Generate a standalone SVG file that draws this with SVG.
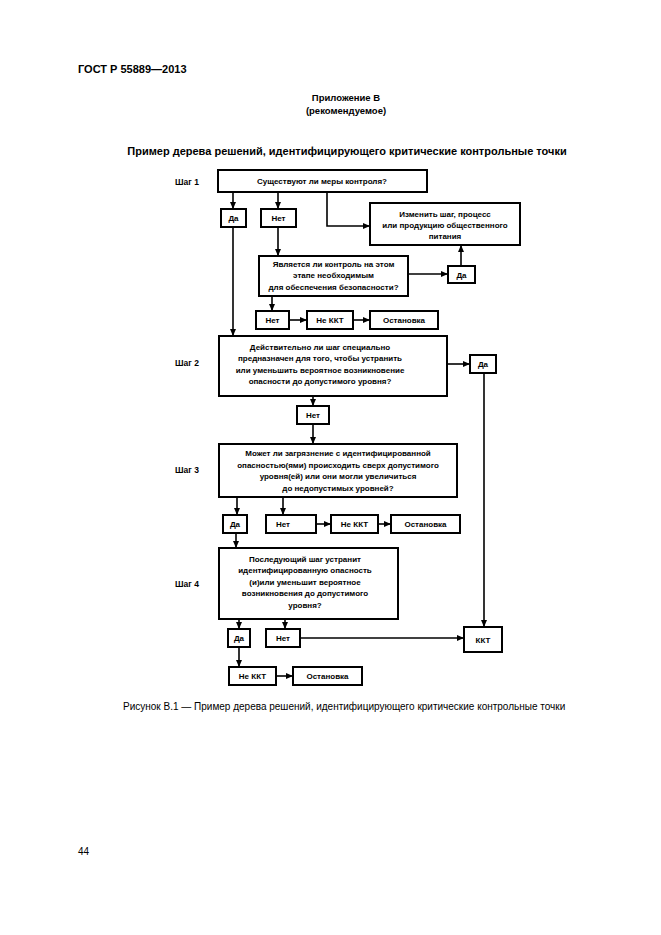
<svg xmlns="http://www.w3.org/2000/svg" width="661" height="935" viewBox="0 0 661 935">
<defs>
<marker id="ah" markerUnits="userSpaceOnUse" markerWidth="7" markerHeight="6" refX="7" refY="3" orient="auto">
<path d="M0,0 L7,3 L0,6 z" fill="#000"/>
</marker>
<style>
.bx{fill:#fff;stroke:#000;stroke-width:2}
.t{font-family:"Liberation Sans",Arial,sans-serif;font-size:8px;font-weight:bold;fill:#000;text-anchor:middle}
.st{font-family:"Liberation Sans",Arial,sans-serif;font-size:8.5px;font-weight:bold;fill:#000}
.c{fill:none;stroke:#000;stroke-width:1.6}
.a{marker-end:url(#ah)}
.h{font-family:"Liberation Sans",Arial,sans-serif;font-weight:bold;fill:#000}
</style>
</defs>
<rect width="661" height="935" fill="#fff"/>
<text class="h" x="78" y="73" font-size="11">ГОСТ Р 55889—2013</text>
<text class="h" x="346" y="101" font-size="9.5" text-anchor="middle">Приложение В</text>
<text class="h" x="346" y="114" font-size="9.5" text-anchor="middle">(рекомендуемое)</text>
<text class="h" x="347" y="155" font-size="11" text-anchor="middle">Пример дерева решений, идентифицирующего критические контрольные точки</text>

<text class="st" x="175" y="185">Шаг 1</text>
<text class="st" x="175" y="366">Шаг 2</text>
<text class="st" x="175" y="473">Шаг 3</text>
<text class="st" x="175" y="587">Шаг 4</text>

<g id="connectors">
<path class="c a" d="M233,192 V209"/>
<path class="c a" d="M278,192 V209"/>
<path class="c a" d="M327,192 V226 H370"/>
<path class="c a" d="M278,227 V256"/>
<path class="c a" d="M408,274 H448"/>
<path class="c a" d="M461,266 V245"/>
<path class="c a" d="M272,296 V311"/>
<path class="c a" d="M289,320 H307"/>
<path class="c a" d="M353,320 H370"/>
<path class="c a" d="M233,227 V336"/>
<path class="c a" d="M447,364 H470"/>
<path class="c a" d="M313,396 V406"/>
<path class="c a" d="M313,424 V444"/>
<path class="c a" d="M484,373 V627"/>
<path class="c a" d="M237,497 V515"/>
<path class="c a" d="M283,497 V515"/>
<path class="c a" d="M316,524 H331"/>
<path class="c a" d="M378,524 H391"/>
<path class="c a" d="M236,533 V548"/>
<path class="c a" d="M239,619 V629"/>
<path class="c a" d="M285,619 V629"/>
<path class="c a" d="M300,638 H464"/>
<path class="c a" d="M239,647 V667"/>
<path class="c a" d="M276,676 H293"/>
</g>

<g id="q1"><rect class="bx" x="218" y="170" width="209" height="22"/><text class="t" x="322" y="184" font-size="8.5">Существуют ли меры контроля?</text></g>
<g id="q1yes"><rect class="bx" x="221" y="209" width="25" height="18"/><text class="t" x="233.5" y="221">Да</text></g>
<g id="q1no"><rect class="bx" x="261" y="209" width="35" height="18"/><text class="t" x="278.5" y="221">Нет</text></g>
<g id="modify"><rect class="bx" x="370" y="203" width="150" height="42"/>
<text class="t" x="445" y="217">Изменить шаг, процесс</text>
<text class="t" x="445" y="228">или продукцию общественного</text>
<text class="t" x="445" y="239">питания</text></g>
<g id="q1b"><rect class="bx" x="259" y="256" width="149" height="40"/>
<text class="t" x="333.5" y="267">Является ли контроль на этом</text>
<text class="t" x="333.5" y="278">этапе необходимым</text>
<text class="t" x="333.5" y="290">для обеспечения безопасности?</text></g>
<g id="q1byes"><rect class="bx" x="448" y="266" width="27" height="17"/><text class="t" x="461.5" y="277.5">Да</text></g>
<g id="q1bno"><rect class="bx" x="256" y="311" width="33" height="18"/><text class="t" x="272.5" y="323">Нет</text></g>
<g id="notccp1"><rect class="bx" x="307" y="311" width="46" height="18"/><text class="t" x="330" y="323">Не ККТ</text></g>
<g id="stop1"><rect class="bx" x="370" y="311" width="68" height="18"/><text class="t" x="404" y="323">Остановка</text></g>

<g id="q2"><rect class="bx" x="219" y="336" width="228" height="60"/>
<text class="t" x="320" y="350">Действительно ли шаг специально</text>
<text class="t" x="320" y="361">предназначен для того, чтобы устранить</text>
<text class="t" x="320" y="373">или уменьшить вероятное возникновение</text>
<text class="t" x="320" y="384">опасности до допустимого уровня?</text></g>
<g id="q2yes"><rect class="bx" x="470" y="355" width="26" height="18"/><text class="t" x="483" y="367">Да</text></g>
<g id="q2no"><rect class="bx" x="297" y="406" width="32" height="18"/><text class="t" x="313" y="418">Нет</text></g>

<g id="q3"><rect class="bx" x="219" y="444" width="238" height="53"/>
<text class="t" x="338" y="456">Может ли загрязнение с идентифицированной</text>
<text class="t" x="338" y="468">опасностью(ями) происходить сверх допустимого</text>
<text class="t" x="338" y="479">уровня(ей) или они могли увеличиться</text>
<text class="t" x="338" y="491">до недопустимых уровней?</text></g>
<g id="q3yes"><rect class="bx" x="223" y="515" width="24" height="18"/><text class="t" x="235" y="527">Да</text></g>
<g id="q3no"><rect class="bx" x="266" y="515" width="50" height="18"/><text class="t" x="283" y="527">Нет</text></g>
<g id="notccp3"><rect class="bx" x="331" y="515" width="47" height="18"/><text class="t" x="354.5" y="527">Не ККТ</text></g>
<g id="stop3"><rect class="bx" x="391" y="515" width="69" height="18"/><text class="t" x="425.5" y="527">Остановка</text></g>

<g id="q4"><rect class="bx" x="219" y="548" width="179" height="71"/>
<text class="t" x="305" y="562">Последующий шаг устранит</text>
<text class="t" x="305" y="573">идентифицированную опасность</text>
<text class="t" x="305" y="585">(и)или уменьшит вероятное</text>
<text class="t" x="305" y="596">возникновения до допустимого</text>
<text class="t" x="305" y="608">уровня?</text></g>
<g id="q4yes"><rect class="bx" x="228" y="629" width="22" height="18"/><text class="t" x="239" y="641">Да</text></g>
<g id="q4no"><rect class="bx" x="266" y="629" width="34" height="18"/><text class="t" x="283" y="641">Нет</text></g>
<g id="ccp"><rect class="bx" x="464" y="627" width="38" height="25"/><text class="t" x="483" y="643">ККТ</text></g>
<g id="notccp4"><rect class="bx" x="229" y="667" width="47" height="18"/><text class="t" x="252.5" y="679">Не ККТ</text></g>
<g id="stop4"><rect class="bx" x="293" y="667" width="69" height="18"/><text class="t" x="327.5" y="679">Остановка</text></g>

<text x="123" y="710" font-family="Liberation Sans,Arial,sans-serif" font-size="10" fill="#000">Рисунок В.1 — Пример дерева решений, идентифицирующего критические контрольные точки</text>
<text x="78" y="855" font-family="Liberation Sans,Arial,sans-serif" font-size="10" fill="#000">44</text>
</svg>
